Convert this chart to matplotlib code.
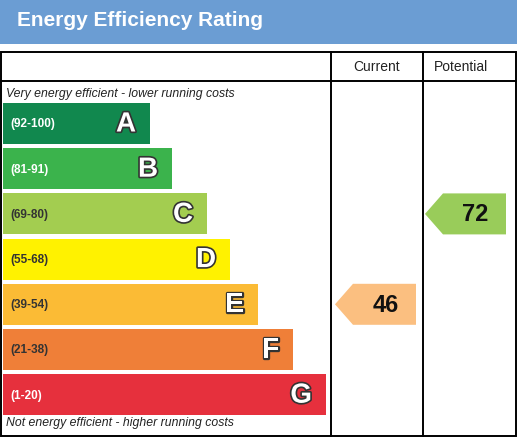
import matplotlib
matplotlib.use('Agg')
import matplotlib.pyplot as plt
from matplotlib.patches import Rectangle, Polygon
import matplotlib.patheffects as pe

# Datos del gráfico
letters = ['A', 'B', 'C', 'D', 'E', 'F', 'G']
ranges = ['(92-100)', '(81-91)', '(69-80)', '(55-68)', '(39-54)', '(21-38)', '(1-20)']
lows = [92, 81, 69, 55, 39, 21, 1]
colors = ['#11884e', '#3bb34c', '#a3cd50', '#fff200', '#fbbb35', '#ef7f38', '#e6303d']
range_colors = ['white', 'white', '#333333', '#333333', '#333333', '#333333', 'white']
bar_ends = [150, 172, 207, 230, 258, 293, 326]
current = 46
potential = 72
current_color = '#fbbf80'
potential_color = '#99cc5a'

W, H = 517, 437
fig = plt.figure(figsize=(W / 100, H / 100), dpi=100)
ax = fig.add_axes([0, 0, 1, 1])
ax.set_xlim(0, W)
ax.set_ylim(H, 0)
ax.axis('off')

font = 'Liberation Sans'

# Cabecera azul
ax.add_patch(Rectangle((0, 0), W, 44, color='#6b9dd3', lw=0))
ax.text(17, 21, 'Energy Efficiency Rating', color='white', fontsize=15,
        fontweight='bold', family=font, va='center', ha='left')

# Tabla
lw = 1.4
ax.add_patch(Rectangle((1, 52), W - 2, 384, fill=False, ec='black', lw=lw))
ax.plot([1, W - 1], [81, 81], color='black', lw=lw)
ax.plot([331, 331], [52, 436], color='black', lw=lw)
ax.plot([423, 423], [52, 436], color='black', lw=lw)
ax.text(377, 67, 'Current', fontsize=10, family=font, ha='center', va='center',
        color='#222222')
ax.text(461, 67, 'Potential', fontsize=10, family=font, ha='center', va='center',
        color='#222222')

ax.text(6, 94, 'Very energy efficient - lower running costs', fontsize=8.8,
        style='italic', family=font, va='center', color='#222222')
ax.text(6, 423, 'Not energy efficient - higher running costs', fontsize=8.8,
        style='italic', family=font, va='center', color='#222222')

# Barras
top0, step, bh = 103, 45.2, 41
tops = []
for i, (let, rng, col, rc, end) in enumerate(zip(letters, ranges, colors, range_colors, bar_ends)):
    top = top0 + i * step
    tops.append(top)
    ax.add_patch(Rectangle((3, top), end - 3, bh, color=col, lw=0))
    ax.text(10, top + bh / 2 + 1, rng, fontsize=8.5, fontweight='bold', family=font,
            color=rc, va='center', ha='left')
    t = ax.text(end - 14, top + bh / 2 + 1, let, fontsize=20, fontweight='bold', family=font,
                color='white', va='center', ha='right')
    t.set_path_effects([pe.withStroke(linewidth=2.4, foreground='#333333')])


def band_index(value):
    for i, lo in enumerate(lows):
        if value >= lo:
            return i
    return len(lows) - 1


def arrow(value, x0, x1, col):
    i = band_index(value)
    top = tops[i]
    ymid = top + bh / 2
    tip = 18
    pts = [(x0, ymid), (x0 + tip, top), (x1, top), (x1, top + bh), (x0 + tip, top + bh)]
    ax.add_patch(Polygon(pts, closed=True, color=col, lw=0))
    ax.text((x0 + x1) / 2 + 10, ymid + 1, str(value), fontsize=17, fontweight='bold',
            family=font, color='#111111', ha='center', va='center')


arrow(current, 335, 416, current_color)
arrow(potential, 425, 506, potential_color)

plt.savefig('out.png', dpi=100)
